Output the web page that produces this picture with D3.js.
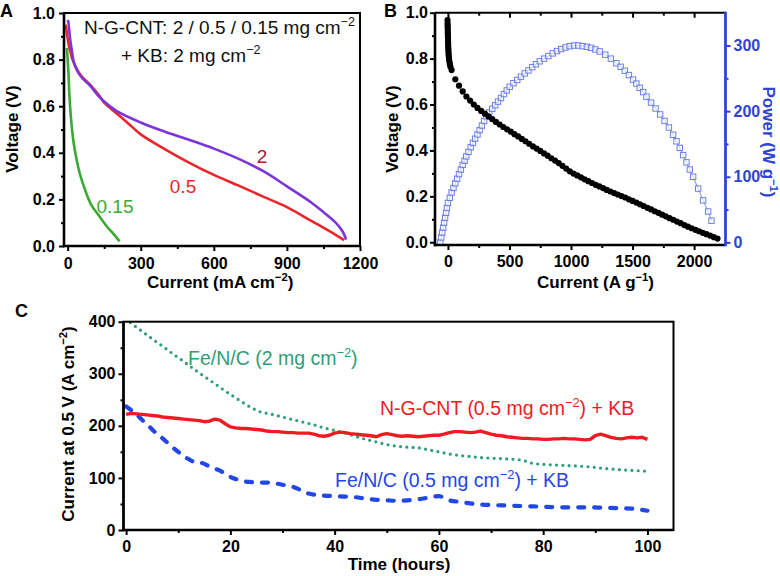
<!DOCTYPE html>
<html><head><meta charset="utf-8">
<script src="https://cdn.jsdelivr.net/npm/d3@7"></script>
<style>
body{margin:0;background:#fff;}
svg{display:block;font-family:"Liberation Sans",Arial,Helvetica,sans-serif;}
</style></head><body>
<svg id="chart" width="780" height="576"></svg>
<script>
// ---------- Panel A data (mA cm^-2, V) ----------
const aLoad2Current = [0,3,6,10,17,25,40,60,90,130,150,200,300,400,500,600,700,800,900,1000,1050,1100,1130,1143];
const aLoad2Voltage = [0.97,0.96,0.93,0.89,0.84,0.79,0.75,0.72,0.69,0.64,0.62,0.58,0.53,0.49,0.455,0.418,0.375,0.323,0.256,0.187,0.145,0.10,0.06,0.027];
const aLoad05Current = [-8,-4,0,5,10,20,40,60,90,130,150,200,250,300,400,500,600,700,800,900,1000,1100,1135];
const aLoad05Voltage = [0.95,0.92,0.89,0.86,0.84,0.80,0.755,0.725,0.695,0.645,0.615,0.57,0.525,0.479,0.415,0.357,0.305,0.26,0.213,0.167,0.108,0.048,0.025];
const aLoad015Current = [-3,0,3,7,12,18,25,35,50,70,95,125,160,190,213];
const aLoad015Voltage = [0.85,0.80,0.75,0.65,0.57,0.50,0.44,0.38,0.31,0.245,0.18,0.135,0.085,0.05,0.02];
const aXTicks = [0,300,600,900,1200];
const aXMinor = [150,450,750,1050];
const aYTicks = [0,0.2,0.4,0.6,0.8,1.0];
const aYMinor = [0.1,0.3,0.5,0.7,0.9];

// ---------- Panel B data (A g^-1, V, W g^-1) ----------
const bCurrent = [-3,-3,-2,-2,-1,-1,0,0,1,1,2,2,3,4,5,6,8,10,13,16,20,
  30,60,90,120,150,180,210,240,270,300,330,360,390,420,450,480,510,540,570,600,
  630,660,690,720,750,780,810,840,870,900,930,960,990,1020,1050,1080,1110,1140,1170,1200,
  1230,1260,1290,1320,1350,1380,1410,1440,1470,1500,1530,1560,1590,1620,1650,1680,1710,1740,1770,1800,
  1830,1860,1890,1920,1950,1980,2010,2040,2070,2100,2130,2160,2190];
const bVoltage = [0.968,0.955,0.945,0.935,0.925,0.915,0.905,0.895,0.885,0.875,0.865,0.855,0.845,0.835,0.825,0.815,0.805,0.795,0.785,0.775,0.765,
  0.750,0.710,0.682,0.657,0.635,0.617,0.600,0.585,0.572,0.560,0.548,0.536,0.524,0.513,0.502,0.492,0.482,0.471,0.461,0.450,
  0.440,0.429,0.418,0.408,0.398,0.387,0.377,0.366,0.356,0.345,0.333,0.321,0.309,0.299,0.291,0.283,0.274,0.266,0.258,0.250,
  0.243,0.236,0.228,0.221,0.214,0.208,0.201,0.195,0.187,0.180,0.173,0.165,0.158,0.150,0.143,0.135,0.128,0.120,0.113,0.105,
  0.098,0.090,0.083,0.075,0.068,0.061,0.054,0.048,0.041,0.035,0.029,0.022,0.016];
const pCurrent = [-62,-54,-46,-39,-31,-23,-15,-8,0,15,30,45,60,75,90,105,120,135,149,167,185,203,221,240,258,276,294,312,
  336,360,384,407,431,455,478,502,532,563,593,624,654,685,715,746,781,816,851,886,920,955,989,
  1024,1059,1094,1129,1163,1198,1233,1278,1324,1369,1403,1437,1470,1504,1531,1558,1586,1613,
  1650,1687,1724,1760,1795,1829,1857,1884,1911,1938,1965,1992,2033,2073,2114,2141];
const pPower = [0,7.5,15,22.5,30,37.5,45,52.5,60,68,76,83,90,97,104,111,118,124.5,131,138,145,151.5,158,164.5,171,178,185,192,
  198,203.5,209,214.5,220,226,231.5,237,242.5,247.5,252.5,257.5,262,267,271.5,276,280,284,288,291.5,294.5,297,299,
  300,300,299,298,296.5,294,291,286,280,273,267.5,261.5,255,248,242,235.5,229,222,
  213,204,195,185,175,164,154,144,133,122,111,100,82,64,47,33];
const bXTicks = [0,500,1000,1500,2000];
const bXMinor = [250,750,1250,1750];
const bYTicks = [0,0.2,0.4,0.6,0.8,1.0];
const bYMinor = [0.1,0.3,0.5,0.7,0.9];
const pTicks = [0,100,200,300];
const pMinor = [50,150,250];

// ---------- Panel C data (hours, A cm^-2) ----------
const cRedTime = d3.range(0,101);
const cRedValue = [222,224,223,222,221,220,219,217,216,215,214,213,212,211,210,208,209,213,211,204,
  198,196,195,195,194,193,192,190,189,189,188,187,187,186,186,186,184,181,180,182,
  186,188,187,185,184,183,182,181,179,183,185,183,181,180,181,180,179,180,181,182,
  182,184,187,189,189,188,187,188,190,187,184,182,181,179,178,177,176,176,175,175,
  174,174,175,175,176,175,175,174,173,174,181,184,181,178,176,175,177,178,177,178,174];
const cGreenTime = [0.8,3,5,7,9,11,13,15,17,19,21,23,25,26,27,28,30,32,34,36,38,40,42,44,46,48,50,52,54,56,58,60,62,64,66,68,70,72,74,76,77,78,80,84,88,92,96,100];
const cGreenValue = [398,382,367,353,338,324,309,295,281,267,254,241,230,226,224,222,217,212,207,202,196,191,186,180,174,169,164,161,159,158,154,150,146,143,141,139,138,137,136,134,131,128,126,124,122,118,115,113];
const cBlueTime = [0,1,2,3,4,5,6,7,8,9,10,11,12,13,14,15,16,17,18,19,20,21,22,23,24,25,26,27,28,29,30,31,32,33,34,35,36,37,38,40,42,44,46,48,50,52,54,56,58,60,61,62,64,66,68,70,73,76,79,82,85,88,91,94,97,100];
const cBlueValue = [237,230,222,212,203,193,184,176,167,158,150,142,136,131,130,127,122,118,114,108,102,98,95,93,92,91,91,91,91,89,87,85,83,79,74,70,68,67,66,65,64,63,60,58,57,56,57,59,62,65,62,57,54,51,49,48,47,46,45,44,43.5,43.5,43,42,41,37];
const cXTicks = [0,20,40,60,80,100];
const cXMinor = [10,30,50,70,90];
const cYTicks = [0,100,200,300,400];
const cYMinor = [50,150,250,350];

// ---------- drawing ----------
const FONT = '"Liberation Sans",Arial,Helvetica,sans-serif';
const svg = d3.select("#chart");

function rich(parent, x, y, segs, o) {
  const fs = o.size || 18;
  const t = parent.append("text").attr("x", x).attr("y", y)
    .attr("font-size", fs).attr("fill", o.color || "#000")
    .attr("font-weight", o.bold ? "bold" : "normal")
    .attr("text-anchor", o.anchor || "start");
  if (o.transform) t.attr("transform", o.transform);
  const shift = fs * 0.42;
  let raised = false;
  segs.forEach(s => {
    if (typeof s === "string") {
      const ts = t.append("tspan").text(s);
      if (raised) { ts.attr("dy", shift); raised = false; }
    } else {
      t.append("tspan").text(s.sup).attr("font-size", fs * 0.66).attr("dy", -shift);
      raised = true;
    }
  });
  return t;
}

function styleAxis(g, color, size) {
  g.select(".domain").remove();
  g.attr("font-family", FONT).attr("font-size", size).attr("font-weight", "bold");
  g.selectAll(".tick line").attr("stroke", color).attr("stroke-width", 2);
  g.selectAll(".tick text").attr("fill", color);
}

function addAxis(gen, transform, ticks, minor, fmt, color, pad) {
  const g = svg.append("g").attr("transform", transform);
  g.call(gen.tickValues(ticks).tickSize(5).tickPadding(pad).tickFormat(fmt));
  styleAxis(g, color, 16);
  const gm = svg.append("g").attr("transform", transform);
  gm.call(gen.tickValues(minor).tickSize(3).tickFormat(""));
  styleAxis(gm, color, 16);
}

function frame(x0, x1, y0, y1) {
  svg.append("rect").attr("x", x0).attr("y", y0).attr("width", x1 - x0).attr("height", y1 - y0)
    .attr("fill", "none").attr("stroke", "#000").attr("stroke-width", 2);
  svg.append("line").attr("x1", x0).attr("x2", x0).attr("y1", y0).attr("y2", y1 + 1.2).attr("stroke", "#000").attr("stroke-width", 2.6);
  svg.append("line").attr("x1", x0 - 1.2).attr("x2", x1).attr("y1", y1).attr("y2", y1).attr("stroke", "#000").attr("stroke-width", 2.6);
}

const f1 = d3.format(".1f"), f0 = d3.format("d");
const zip = (a, b) => a.map((v, i) => [v, b[i]]);

// ===== Panel A =====
const xA = d3.scaleLinear().domain([-15, 1200]).range([64, 360]);
const yA = d3.scaleLinear().domain([0, 1]).range([246, 13]);
const lineA = d3.line().x(d => xA(d[0])).y(d => yA(d[1])).curve(d3.curveCatmullRom.alpha(0.5));
svg.append("path").datum(zip(aLoad015Current, aLoad015Voltage)).attr("d", lineA)
  .attr("fill", "none").attr("stroke", "#3aaa35").attr("stroke-width", 2.6);
svg.append("path").datum(zip(aLoad05Current, aLoad05Voltage)).attr("d", lineA)
  .attr("fill", "none").attr("stroke", "#e8262b").attr("stroke-width", 2.6);
svg.append("path").datum(zip(aLoad2Current, aLoad2Voltage)).attr("d", lineA)
  .attr("fill", "none").attr("stroke", "#7d35d6").attr("stroke-width", 2.6);
frame(64, 360, 13, 246);
addAxis(d3.axisBottom(xA), "translate(0,246)", aXTicks, aXMinor, f0, "#000", 7);
addAxis(d3.axisLeft(yA), "translate(64,0)", aYTicks, aYMinor, f1, "#000", 4);
rich(svg, 84, 34, ["N-G-CNT: 2 / 0.5 / 0.15 mg cm", {sup: "\u22122"}], {size: 19, color: "#111"});
rich(svg, 121, 62, ["+ KB: 2 mg cm", {sup: "\u22122"}], {size: 19, color: "#111"});
rich(svg, 262, 163, ["2"], {size: 19, color: "#a3202e", anchor: "middle"});
rich(svg, 183, 193, ["0.5"], {size: 19, color: "#e8262b", anchor: "middle"});
rich(svg, 115, 213, ["0.15"], {size: 19, color: "#3aaa35", anchor: "middle"});
rich(svg, 147, 288, ["Current (mA cm", {sup: "\u22122"}, ")"], {size: 17, bold: true});
rich(svg, 0, 0, ["Voltage (V)"], {size: 17, bold: true, anchor: "middle", transform: "translate(18,129) rotate(-90)"});
rich(svg, 0, 17, ["A"], {size: 18, bold: true});

// ===== Panel B =====
const xB = d3.scaleLinear().domain([-105, 2255]).range([435, 725.5]);
const yB = d3.scaleLinear().domain([-0.012, 1]).range([245, 12.7]);
const yP = d3.scaleLinear().domain([-4, 350]).range([245, 12.7]);
const pData = zip(pCurrent, pPower);
svg.append("path").datum(pData)
  .attr("d", d3.line().x(d => xB(d[0])).y(d => yP(d[1])))
  .attr("fill", "none").attr("stroke", "#5a6ee0").attr("stroke-width", 0.8);
svg.append("g").selectAll("rect").data(pData).join("rect")
  .attr("x", d => xB(d[0]) - 2.7).attr("y", d => yP(d[1]) - 2.7)
  .attr("width", 5.4).attr("height", 5.4)
  .attr("fill", "#fff").attr("fill-opacity", 0.6).attr("stroke", "#6b7ee3").attr("stroke-width", 1);
svg.append("g").selectAll("circle").data(zip(bCurrent, bVoltage)).join("circle")
  .attr("cx", d => xB(d[0])).attr("cy", d => yB(d[1])).attr("r", 3.1).attr("fill", "#000");
svg.append("line").attr("x1", 435).attr("x2", 725.5).attr("y1", 12.7).attr("y2", 12.7).attr("stroke", "#000").attr("stroke-width", 2);
svg.append("line").attr("x1", 433.8).attr("x2", 725.5).attr("y1", 245).attr("y2", 245).attr("stroke", "#000").attr("stroke-width", 2.6);
svg.append("line").attr("x1", 435).attr("x2", 435).attr("y1", 12.7).attr("y2", 246.2).attr("stroke", "#000").attr("stroke-width", 2.6);
svg.append("line").attr("x1", 725.5).attr("x2", 725.5).attr("y1", 11.7).attr("y2", 246.2).attr("stroke", "#2f45d2").attr("stroke-width", 2.8);
addAxis(d3.axisBottom(xB), "translate(0,245)", bXTicks, bXMinor, f0, "#000", 6);
addAxis(d3.axisLeft(yB), "translate(435,0)", bYTicks, bYMinor, f1, "#000", 2);
addAxis(d3.axisRight(yP), "translate(725.5,0)", pTicks, pMinor, f0, "#2f45d2", 3);
{
  const gt = svg.append("g").attr("transform", "translate(0,12.7)");
  gt.call(d3.axisTop(xB).tickValues(bXTicks).tickSize(-5).tickFormat(""));
  styleAxis(gt, "#000", 16);
  const gt2 = svg.append("g").attr("transform", "translate(0,12.7)");
  gt2.call(d3.axisTop(xB).tickValues(bXMinor).tickSize(-3).tickFormat(""));
  styleAxis(gt2, "#000", 16);
}
rich(svg, 537, 288, ["Current (A g", {sup: "\u22121"}, ")"], {size: 17, bold: true});
rich(svg, 0, 0, ["Voltage (V)"], {size: 17, bold: true, anchor: "middle", transform: "translate(398,129) rotate(-90)"});
rich(svg, 0, 0, ["Power (W g", {sup: "\u22121"}, ")"], {size: 17, bold: true, color: "#2f45d2", anchor: "middle", transform: "translate(763,142) rotate(90)"});
rich(svg, 384, 17, ["B"], {size: 18, bold: true});

// ===== Panel C =====
const xC = d3.scaleLinear().domain([-0.5, 105]).range([123.5, 673.5]);
const yC = d3.scaleLinear().domain([0, 400]).range([530, 321.7]);
const lineC = d3.line().x(d => xC(d[0])).y(d => yC(d[1]));
svg.append("path").datum(zip(cGreenTime, cGreenValue)).attr("d", lineC.curve(d3.curveMonotoneX))
  .attr("fill", "none").attr("stroke", "#2e9e78").attr("stroke-width", 3.2)
  .attr("stroke-linecap", "round").attr("stroke-dasharray", "0 6.3");
svg.append("path").datum(zip(cBlueTime, cBlueValue)).attr("d", lineC.curve(d3.curveMonotoneX))
  .attr("fill", "none").attr("stroke", "#2346e6").attr("stroke-width", 4.2)
  .attr("stroke-linecap", "round").attr("stroke-dasharray", "6 10");
svg.append("path").datum(zip(cRedTime, cRedValue)).attr("d", lineC.curve(d3.curveLinear))
  .attr("fill", "none").attr("stroke", "#ee1c22").attr("stroke-width", 3.4).attr("stroke-linejoin", "round");
frame(123.5, 673.5, 321.7, 530);
addAxis(d3.axisBottom(xC), "translate(0,530)", cXTicks, cXMinor, f0, "#000", 6);
addAxis(d3.axisLeft(yC), "translate(123.5,0)", cYTicks, cYMinor, f0, "#000", 3);
rich(svg, 188, 365, ["Fe/N/C (2 mg cm", {sup: "\u22122"}, ")"], {size: 19.5, color: "#2e9e78"});
rich(svg, 380, 415, ["N-G-CNT (0.5 mg cm", {sup: "\u22122"}, ") + KB"], {size: 19.5, color: "#ee1c22"});
rich(svg, 335, 487, ["Fe/N/C (0.5 mg cm", {sup: "\u22122"}, ") + KB"], {size: 19.5, color: "#2346e6"});
rich(svg, 399, 570, ["Time (hours)"], {size: 17, bold: true, anchor: "middle"});
rich(svg, 0, 0, ["Current at 0.5 V (A cm", {sup: "\u22122"}, ")"], {size: 17, bold: true, anchor: "middle", transform: "translate(74,424) rotate(-90)"});
rich(svg, 15, 317, ["C"], {size: 18, bold: true});
</script></body></html>
